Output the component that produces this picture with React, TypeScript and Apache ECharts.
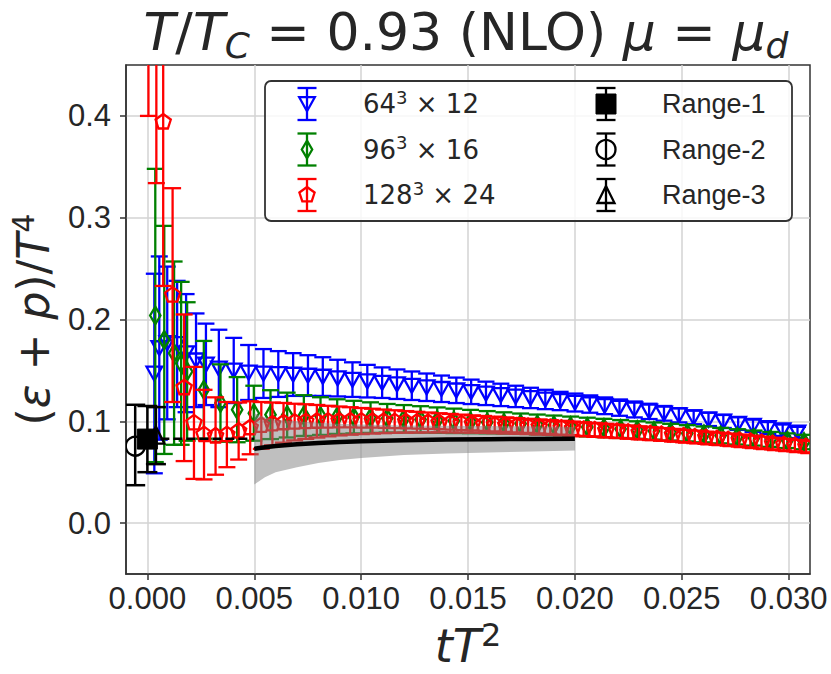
import React, { useEffect, useRef } from "react";
import * as echarts from "echarts";

// ---------------- data ----------------
const X_TICKS = [0, 0.005, 0.01, 0.015, 0.02, 0.025, 0.03];
const Y_TICKS = [0, 0.1, 0.2, 0.3, 0.4];

// 64^3 x 12 (blue, triangle down)
const blueX = [
  0.000325, 0.000557, 0.000929, 0.001393, 0.001811, 0.002276, 0.00274, 0.003344, 0.00404, 0.004737,
  0.005431, 0.006125, 0.006819, 0.007513, 0.008207, 0.008901, 0.009595, 0.010289, 0.010983, 0.011677,
  0.012371, 0.013065, 0.013759, 0.014453, 0.015147, 0.015841, 0.016535, 0.017229, 0.017923, 0.018617,
  0.019311, 0.020005, 0.020699, 0.021393, 0.022087, 0.022781, 0.023475, 0.024169, 0.024863, 0.025557,
  0.026251, 0.026945, 0.027639, 0.028333, 0.029027, 0.029721, 0.030415,
];
const blueY = [
  0.147, 0.172, 0.177, 0.176, 0.167, 0.16, 0.156, 0.152, 0.15, 0.148,
  0.147, 0.1465, 0.146, 0.145, 0.144, 0.1425, 0.141, 0.1395, 0.138, 0.1365,
  0.135, 0.1335, 0.132, 0.1305, 0.129, 0.1275, 0.126, 0.1245, 0.123, 0.1215,
  0.12, 0.1185, 0.117, 0.1153, 0.1135, 0.1117, 0.1098, 0.1079, 0.106, 0.104,
  0.102, 0.0999, 0.0978, 0.0957, 0.0935, 0.0913, 0.0891,
];
const blueErr = [
  0.098, 0.09, 0.075, 0.062, 0.058, 0.046, 0.04, 0.038, 0.032, 0.027,
  0.024, 0.0225, 0.021, 0.02, 0.019, 0.018, 0.017, 0.016, 0.015, 0.0145,
  0.014, 0.0135, 0.013, 0.0125, 0.012, 0.0115, 0.011, 0.0105, 0.01, 0.0095,
  0.009, 0.0088, 0.0085, 0.0082, 0.008, 0.0078, 0.0075, 0.0072, 0.007, 0.0068,
  0.0066, 0.0064, 0.0062, 0.006, 0.0058, 0.0056, 0.0055,
];

// 96^3 x 16 (green, thin diamond)
const greenX = [
  0.00037, 0.00079, 0.00125, 0.00158, 0.00186, 0.00264, 0.00342, 0.0042, 0.00498, 0.00576,
  0.00654, 0.00732, 0.0081, 0.00888, 0.00966, 0.01044, 0.01122, 0.012, 0.01278, 0.01356,
  0.01434, 0.01512, 0.0159, 0.01668, 0.01746, 0.01824, 0.01902, 0.0198, 0.02058, 0.02136,
  0.02214, 0.02292, 0.0237, 0.02448, 0.02526, 0.02604, 0.02682, 0.0276, 0.02838, 0.02916,
  0.02994, 0.03072,
];
const greenY = [
  0.204, 0.18, 0.167, 0.157, 0.149, 0.131, 0.118, 0.1115, 0.108, 0.1066,
  0.1062, 0.1057, 0.1052, 0.1047, 0.1042, 0.1037, 0.1031, 0.1025, 0.1019, 0.1012,
  0.1005, 0.0998, 0.0991, 0.0984, 0.0977, 0.0969, 0.0961, 0.0953, 0.0944, 0.0935,
  0.0925, 0.0915, 0.0905, 0.0894, 0.0883, 0.0872, 0.086, 0.0848, 0.0836, 0.0823,
  0.081, 0.0797,
];
const greenErr = [
  0.144, 0.112, 0.09, 0.08, 0.068, 0.048, 0.038, 0.032, 0.027, 0.024,
  0.022, 0.02, 0.0185, 0.017, 0.016, 0.015, 0.014, 0.0135, 0.013, 0.0125,
  0.012, 0.0115, 0.011, 0.0105, 0.01, 0.0098, 0.0096, 0.0094, 0.0092, 0.009,
  0.0088, 0.0086, 0.0084, 0.0082, 0.008, 0.0078, 0.0076, 0.0075, 0.0074, 0.0073,
  0.0072, 0.0071,
];

// 128^3 x 24 (red, pentagon)
const redX = [
  0.00005, 0.00042, 0.00074, 0.00118, 0.00172, 0.00218, 0.00265, 0.00319, 0.00372, 0.00427,
  0.00481, 0.00533, 0.00585, 0.00637, 0.00689, 0.00741, 0.00793, 0.00845, 0.00897, 0.00949,
  0.01001, 0.01053, 0.01105, 0.01157, 0.01209, 0.01261, 0.01313, 0.01365, 0.01417, 0.01469,
  0.01521, 0.01573, 0.01625, 0.01677, 0.01729, 0.01781, 0.01833, 0.01885, 0.01937, 0.01989,
  0.02041, 0.02093, 0.02145, 0.02197, 0.02249, 0.02301, 0.02353, 0.02405, 0.02457, 0.02509,
  0.02561, 0.02613, 0.02665, 0.02717, 0.02769, 0.02821, 0.02873, 0.02925, 0.02977, 0.03029,
  0.03081,
];
const redY = [
  0.62, 0.55, 0.394, 0.224, 0.133, 0.0985, 0.087, 0.0856, 0.087, 0.0905,
  0.0937, 0.096, 0.0975, 0.0986, 0.0993, 0.0998, 0.1001, 0.1003, 0.1004, 0.1004,
  0.1003, 0.1002, 0.1, 0.0998, 0.0995, 0.0992, 0.0989, 0.0986, 0.0982, 0.0978,
  0.0974, 0.097, 0.0965, 0.096, 0.0955, 0.095, 0.0945, 0.094, 0.0934, 0.0928,
  0.0922, 0.0916, 0.0909, 0.0902, 0.0895, 0.0888, 0.088, 0.0872, 0.0864, 0.0856,
  0.0848, 0.0839, 0.083, 0.0821, 0.0812, 0.0802, 0.0792, 0.0782, 0.0772, 0.0762,
  0.0752,
];
const redErr = [
  0.22, 0.216, 0.161, 0.105, 0.072, 0.055, 0.044, 0.038, 0.032, 0.028,
  0.026, 0.023, 0.021, 0.0195, 0.018, 0.017, 0.016, 0.015, 0.0142, 0.0135,
  0.0128, 0.0122, 0.0116, 0.0111, 0.0106, 0.0102, 0.0098, 0.0094, 0.0091, 0.0088,
  0.0085, 0.0083, 0.0081, 0.0079, 0.0077, 0.0075, 0.0074, 0.0072, 0.0071, 0.007,
  0.0069, 0.0068, 0.0067, 0.0066, 0.0065, 0.0064, 0.0063, 0.0062, 0.0062, 0.0061,
  0.0061, 0.006, 0.006, 0.0059, 0.0059, 0.0058, 0.0058, 0.0057, 0.0057, 0.0056,
  0.0056,
];

// continuum extrapolation band (gray) and its central line
const bandX = [0.005, 0.0055, 0.006, 0.007, 0.008, 0.009, 0.01, 0.012, 0.014, 0.016, 0.018, 0.02];
const bandMid = [0.073, 0.0745, 0.0758, 0.0775, 0.0788, 0.0798, 0.0805, 0.0815, 0.0821, 0.0825, 0.0828, 0.083];
const bandLow = [0.038, 0.045, 0.05, 0.055, 0.059, 0.062, 0.064, 0.067, 0.0685, 0.0695, 0.0705, 0.0715];
const bandHigh = [0.108, 0.104, 0.1016, 0.1, 0.0986, 0.0976, 0.097, 0.096, 0.0957, 0.0955, 0.0951, 0.0945];

// dashed extrapolation line
const dashX = [0, 0.005];
const dashY = [0.083, 0.083];

// continuum-extrapolated points: Range-1, Range-2, Range-3
const range1 = { x: [0.0], y: [0.0826], err: [0.0325] };
const range2 = { x: [-0.00057], y: [0.0768], err: [0.0395] };
const range3 = { x: [0.0004], y: [0.086], err: [0.028] };

// ---------------- styles ----------------
const BLUE = "#0000ff";
const GREEN = "#008000";
const RED = "#ff0000";
const BLACK = "#000000";
const TXT = "#262626";
const FRAME = "#333333";
const SANS = "'Liberation Sans', Arial, Helvetica, sans-serif";
const DJ = "'DejaVu Sans', sans-serif";
const MLW = 2.3;
const BLW = 2.3;

type Kind = "tridown" | "thindiamond" | "pentagon" | "square" | "circle" | "triup";

function markerShape(kind: Kind, cx: number, cy: number, color: string, z?: number): any {
  const style = { fill: "none", stroke: color, lineWidth: MLW };
  const zz = z === undefined ? {} : { z };
  switch (kind) {
    case "tridown":
      return { type: "polygon", ...zz, shape: { points: [[cx - 7.8, cy - 6.8], [cx + 7.8, cy - 6.8], [cx, cy + 7.2]] }, style };
    case "thindiamond":
      return { type: "polygon", ...zz, shape: { points: [[cx, cy - 8.8], [cx + 5.2, cy], [cx, cy + 8.8], [cx - 5.2, cy]] }, style };
    case "pentagon": {
      const r = 8;
      const pts: number[][] = [];
      for (let k = 0; k < 5; k++) {
        const a = -Math.PI / 2 + (k * 2 * Math.PI) / 5;
        pts.push([cx + r * Math.cos(a), cy + r * Math.sin(a)]);
      }
      return { type: "polygon", ...zz, shape: { points: pts }, style };
    }
    case "square":
      return { type: "rect", ...zz, shape: { x: cx - 10, y: cy - 10, width: 20, height: 20 }, style: { fill: color, stroke: color, lineWidth: 1 } };
    case "circle":
      return { type: "circle", ...zz, shape: { cx, cy, r: 9.5 }, style };
    case "triup":
      return { type: "polygon", ...zz, shape: { points: [[cx, cy - 9], [cx - 8.5, cy + 8], [cx + 8.5, cy + 8]] }, style };
  }
  return null;
}

function barPieces(cx: number, yLo: number, yHi: number, color: string, capHalf: number, lw: number, z?: number): any[] {
  const s = { stroke: color, lineWidth: lw };
  const zz = z === undefined ? {} : { z };
  return [
    { type: "line", ...zz, shape: { x1: cx, y1: yLo, x2: cx, y2: yHi }, style: s },
    { type: "line", ...zz, shape: { x1: cx - capHalf, y1: yLo, x2: cx + capHalf, y2: yLo }, style: s },
    { type: "line", ...zz, shape: { x1: cx - capHalf, y1: yHi, x2: cx + capHalf, y2: yHi }, style: s },
  ];
}

function rows(xs: number[], ys: number[], es: number[]) {
  const out: number[][] = [];
  const n = Math.min(xs.length, ys.length, es.length);
  for (let i = 0; i < n; i++) out.push([xs[i], ys[i], ys[i] - es[i], ys[i] + es[i]]);
  return out;
}

function barSeries(id: string, data: number[][], color: string, capHalf: number, lw: number): any {
  return {
    type: "custom",
    id,
    data,
    clip: true,
    silent: true,
    encode: { x: 0, y: 1 },
    renderItem: (_p: any, api: any) => {
      const x = api.value(0);
      const c = api.coord([x, api.value(1)]);
      const lo = api.coord([x, api.value(2)]);
      const hi = api.coord([x, api.value(3)]);
      return { type: "group", children: barPieces(c[0], lo[1], hi[1], color, capHalf, lw) };
    },
  };
}

function markerSeries(id: string, data: number[][], color: string, kind: Kind): any {
  return {
    type: "custom",
    id,
    data,
    clip: true,
    silent: true,
    encode: { x: 0, y: 1 },
    renderItem: (_p: any, api: any) => {
      const c = api.coord([api.value(0), api.value(1)]);
      return markerShape(kind, c[0], c[1], color);
    },
  };
}

function legendIcon(cx: number, cy: number, color: string, kind: Kind): any[] {
  return [...barPieces(cx, cy + 16, cy - 16, color, 9.5, BLW, 110), markerShape(kind, cx, cy, color, 111)];
}

function buildOption(): any {
  const blue = rows(blueX, blueY, blueErr);
  const green = rows(greenX, greenY, greenErr);
  const red = rows(redX, redY, redErr);
  const r1 = rows(range1.x, range1.y, range1.err);
  const r2 = rows(range2.x, range2.y, range2.err);
  const r3 = rows(range3.x, range3.y, range3.err);

  const legRows = [104, 149.5, 195];
  const supRich = {
    a: { fontFamily: DJ, fontSize: 26, color: TXT, lineHeight: 32 },
    s: { fontFamily: DJ, fontSize: 18, color: TXT, lineHeight: 18, verticalAlign: "top" },
  };
  const legendTexts = [
    { t: "{a|64}{s|3}{a| × 12}", c: BLUE, k: "tridown" as Kind },
    { t: "{a|96}{s|3}{a| × 16}", c: GREEN, k: "thindiamond" as Kind },
    { t: "{a|128}{s|3}{a| × 24}", c: RED, k: "pentagon" as Kind },
  ];
  const rightTexts = [
    { t: "Range-1", k: "square" as Kind },
    { t: "Range-2", k: "circle" as Kind },
    { t: "Range-3", k: "triup" as Kind },
  ];

  const graphics: any[] = [
    {
      type: "rect",
      z: 100,
      shape: { x: 265, y: 81, width: 527, height: 140, r: 6 },
      style: { fill: "rgba(255,255,255,0.8)", stroke: FRAME, lineWidth: 1.8 },
    },
  ];
  legendTexts.forEach((e, i) => {
    graphics.push(...legendIcon(307, legRows[i], e.c, e.k));
    graphics.push({
      type: "text",
      z: 110,
      x: 363,
      y: legRows[i],
      style: { text: e.t, rich: supRich, verticalAlign: "middle", align: "left", fill: TXT },
    });
  });
  rightTexts.forEach((e, i) => {
    graphics.push(...legendIcon(606, legRows[i], BLACK, e.k));
    graphics.push({
      type: "text",
      z: 110,
      x: 662,
      y: legRows[i],
      style: { text: e.t, fontFamily: SANS, fontSize: 27, fill: TXT, verticalAlign: "middle", align: "left" },
    });
  });

  return {
    animation: false,
    backgroundColor: "#ffffff",
    title: {
      text: "{i|T}{n|/}{i|T}{sub|C}{n| = 0.93 (NLO) }{i|μ}{n| = }{i|μ}{sub|d}",
      left: 466,
      top: 1,
      textAlign: "center",
      padding: 0,
      textStyle: {
        fontWeight: "normal",
        rich: {
          n: { fontFamily: DJ, fontSize: 52, fontWeight: "normal", color: TXT, lineHeight: 62 },
          i: { fontFamily: DJ, fontSize: 52, fontWeight: "normal", fontStyle: "italic", color: TXT, lineHeight: 62 },
          sub: { fontFamily: DJ, fontSize: 36, fontWeight: "normal", fontStyle: "italic", color: TXT, lineHeight: 30, verticalAlign: "bottom" },
        },
      },
    },
    grid: {
      left: 121,
      top: 65,
      right: 21,
      bottom: 97,
      show: true,
      borderColor: FRAME,
      borderWidth: 1.5,
      backgroundColor: "transparent",
      containLabel: false,
    },
    xAxis: {
      type: "value",
      min: -0.001,
      max: 0.031,
      name: "{i|tT}{sup|2}",
      nameLocation: "middle",
      nameGap: 40,
      nameTextStyle: {
        rich: {
          i: { fontFamily: DJ, fontSize: 46, fontStyle: "italic", color: TXT, lineHeight: 54 },
          sup: { fontFamily: DJ, fontSize: 32, color: TXT, lineHeight: 32, verticalAlign: "top" },
        },
      },
      axisLine: { show: true, onZero: false, lineStyle: { color: FRAME, width: 1.5 } },
      axisTick: { show: true, length: 6, customValues: X_TICKS, lineStyle: { color: FRAME, width: 1.5 } },
      axisLabel: {
        customValues: X_TICKS,
        margin: 9,
        fontFamily: SANS,
        fontSize: 31,
        color: TXT,
        formatter: (v: number) => v.toFixed(3),
      },
      splitLine: { show: true, lineStyle: { color: "#d3d3d3", width: 1.5 } },
    },
    yAxis: {
      type: "value",
      min: -0.05,
      max: 0.45,
      name: "{n|(}{i|ε}{n| + }{i|p}{n|)/}{i|T}{sup|4}",
      nameLocation: "middle",
      nameGap: 68,
      nameRotate: 90,
      nameTextStyle: {
        rich: {
          n: { fontFamily: DJ, fontSize: 44, color: TXT, lineHeight: 50 },
          i: { fontFamily: DJ, fontSize: 44, fontStyle: "italic", color: TXT, lineHeight: 50 },
          sup: { fontFamily: DJ, fontSize: 30, color: TXT, lineHeight: 30, verticalAlign: "top" },
        },
      },
      axisLine: { show: true, onZero: false, lineStyle: { color: FRAME, width: 1.5 } },
      axisTick: { show: true, length: 6, customValues: Y_TICKS, lineStyle: { color: FRAME, width: 1.5 } },
      axisLabel: {
        customValues: Y_TICKS,
        margin: 15,
        fontFamily: SANS,
        fontSize: 31,
        color: TXT,
        formatter: (v: number) => v.toFixed(1),
      },
      splitLine: { show: true, lineStyle: { color: "#d3d3d3", width: 1.5 } },
    },
    graphic: { elements: graphics },
    series: [
      barSeries("blueBars", blue, BLUE, 8.5, BLW),
      markerSeries("blueMarks", blue, BLUE, "tridown"),
      barSeries("greenBars", green, GREEN, 8.5, BLW),
      markerSeries("greenMarks", green, GREEN, "thindiamond"),
      barSeries("redBars", red, RED, 8.5, BLW),
      markerSeries("redMarks", red, RED, "pentagon"),
      {
        type: "custom",
        id: "band",
        data: [[bandX[0], bandMid[0]]],
        clip: true,
        silent: true,
        encode: { x: 0, y: 1 },
        renderItem: (_p: any, api: any) => {
          const pts: number[][] = [];
          for (let i = 0; i < bandX.length; i++) pts.push(api.coord([bandX[i], bandHigh[i]]));
          for (let i = bandX.length - 1; i >= 0; i--) pts.push(api.coord([bandX[i], bandLow[i]]));
          return { type: "polygon", shape: { points: pts }, style: { fill: "rgba(128,128,128,0.5)" } };
        },
      },
      {
        type: "line",
        id: "bandMid",
        data: bandX.map((x, i) => [x, bandMid[i]]),
        symbol: "none",
        silent: true,
        lineStyle: { color: BLACK, width: 4.5 },
      },
      {
        type: "line",
        id: "dash",
        data: dashX.map((x, i) => [x, dashY[i]]),
        symbol: "none",
        silent: true,
        lineStyle: { color: BLACK, width: 2.5, type: [9, 4] },
      },
      barSeries("r2Bars", r2, BLACK, 10, 2.5),
      markerSeries("r2Mark", r2, BLACK, "circle"),
      barSeries("r3Bars", r3, BLACK, 10, 2.5),
      markerSeries("r3Mark", r3, BLACK, "triup"),
      barSeries("r1Bars", r1, BLACK, 10, 2.5),
      markerSeries("r1Mark", r1, BLACK, "square"),
    ],
  };
}

export default function App() {
  const ref = useRef<HTMLDivElement>(null);
  useEffect(() => {
    if (!ref.current) return;
    const chart = echarts.init(ref.current, undefined, { renderer: "svg" });
    chart.setOption(buildOption());
    return () => chart.dispose();
  }, []);
  return (
    <div
      ref={ref}
      style={{ position: "fixed", left: 0, top: 0, width: 831, height: 674, background: "#ffffff" }}
    />
  );
}
